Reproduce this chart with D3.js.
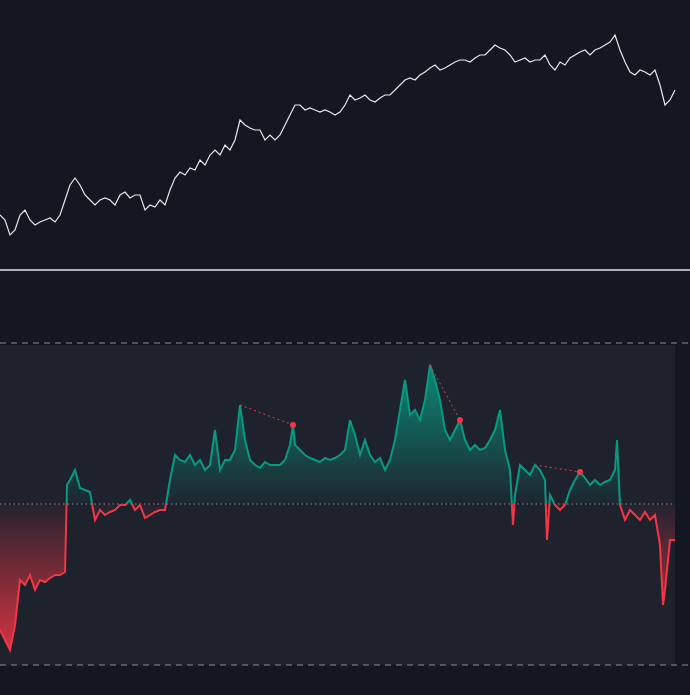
<!DOCTYPE html><html><head><meta charset="utf-8">
<script src="https://cdn.jsdelivr.net/npm/d3@7"></script>
<style>body{margin:0;background:#131722}</style></head><body><svg id="c" width="690" height="695"></svg>
<script>
const priceX=[0,5,10,15,20,25,30,35,40,45,50,55,60,65,70,75,80,85,90,95,100,105,110,115,120,125,130,135,140,145,150,155,160,165,170,175,180,185,190,195,200,205,210,215,220,225,230,235,240,245,250,255,260,265,270,275,280,285,290,295,300,305,310,315,320,325,330,335,340,345,350,355,360,365,370,375,380,385,390,395,400,405,410,415,420,425,430,435,440,445,450,455,460,465,470,475,480,485,490,495,500,505,510,515,520,525,530,535,540,545,550,555,560,565,570,575,580,585,590,595,600,605,610,615,620,625,630,635,640,645,650,655,660,665,670,675];
const priceY=[215,220,235,230,215,210,220,225,222,220,218,222,215,200,185,178,185,195,200,205,200,198,200,205,195,192,198,195,195,210,205,207,200,205,190,178,172,175,168,170,160,165,155,150,155,145,150,140,120,125,128,130,130,140,135,140,135,125,115,105,105,110,108,110,112,110,112,115,112,105,95,100,98,95,100,102,98,95,95,90,85,80,78,80,75,72,68,65,70,68,65,62,60,60,62,58,55,55,50,45,48,50,55,62,60,58,62,60,60,55,65,70,62,65,58,55,52,50,55,50,48,45,42,35,50,62,72,75,70,72,75,70,85,105,100,90];
const price=priceY.map(y=>270-y);
const oscX=[0,5,10,15,20,25,30,35,40,45,50,55,60,65,67,70,75,80,85,90,95,100,105,110,115,120,125,130,135,140,145,150,155,160,165,170,175,180,185,190,195,200,205,210,215,220,225,230,235,240,245,250,255,260,265,270,275,280,285,290,293,295,300,305,310,315,320,325,330,335,340,345,350,355,360,365,370,375,380,385,390,395,400,405,410,415,420,425,430,435,440,445,450,455,460,465,470,475,480,485,490,495,500,505,510,513,515,520,525,530,535,540,545,547,550,555,560,565,570,575,580,585,590,595,600,605,610,615,617,620,625,630,635,640,645,650,655,660,663,665,670,675];
const oscY=[630,640,650,625,580,585,575,590,580,582,578,575,575,572,485,480,470,488,490,492,520,510,515,512,510,505,505,500,510,505,518,515,512,510,510,480,455,460,462,455,465,460,470,465,430,470,460,460,450,405,440,460,465,468,462,465,465,465,460,445,425,445,450,455,458,460,462,458,460,458,455,450,420,435,455,440,455,462,458,470,460,440,410,380,415,410,420,400,365,380,400,430,440,430,420,440,450,445,450,448,440,430,410,450,470,525,495,465,470,475,465,470,480,540,495,505,510,505,490,480,472,478,485,480,485,482,480,470,440,505,520,510,515,520,512,520,515,545,605,590,540,540];
const osc=oscY.map(y=>504-y);
const divs=[[240,293],[430,460],[535,580]];

const svg=d3.select("#c");
const x=d3.scaleLinear().domain([0,675]).range([0,675]);
const yP=d3.scaleLinear().domain([0,270]).range([270,0]);
const yO=d3.scaleLinear().domain([-161,161]).range([665,343]);
svg.append("rect").attr("x",0).attr("y",345).attr("width",675).attr("height",320).attr("fill","#1e222d");
const pts=priceX.map((d,i)=>[d,price[i]]);
svg.append("path").datum(pts).attr("d",d3.line().x(d=>x(d[0])).y(d=>yP(d[1])))
 .attr("fill","none").attr("stroke","#e8e8ec").attr("stroke-width",1.2);
svg.append("line").attr("x1",0).attr("x2",690).attr("y1",270).attr("y2",270).attr("stroke","#e0e3eb").attr("stroke-width",1.5);
[161,-161].forEach(v=>svg.append("line").attr("x1",0).attr("x2",690).attr("y1",yO(v)).attr("y2",yO(v)).attr("stroke","#8a8e99").attr("stroke-dasharray","6,5"));
svg.append("line").attr("x1",0).attr("x2",675).attr("y1",yO(0)).attr("y2",yO(0)).attr("stroke","#8a8e99").attr("stroke-dasharray","1.5,3");
const defs=svg.append("defs");
const gf=defs.append("linearGradient").attr("id","gf").attr("gradientUnits","userSpaceOnUse").attr("x1",0).attr("x2",0).attr("y1",yO(161)).attr("y2",yO(-161));
[[0.1,"#089981",0.8],[0.5,"#089981",0.03],[0.5,"#f23645",0.03],[0.95,"#f23645",0.85]].forEach(s=>gf.append("stop").attr("offset",s[0]).attr("stop-color",s[1]).attr("stop-opacity",s[2]));
const gl=defs.append("linearGradient").attr("id","gl").attr("gradientUnits","userSpaceOnUse").attr("x1",0).attr("x2",0).attr("y1",yO(161)).attr("y2",yO(-161));
[[0,"#089981"],[0.5,"#089981"],[0.5,"#f23645"],[1,"#f23645"]].forEach(s=>gl.append("stop").attr("offset",s[0]).attr("stop-color",s[1]));
const op=oscX.map((d,i)=>[d,osc[i]]);
svg.append("path").datum(op).attr("d",d3.area().x(d=>x(d[0])).y0(yO(0)).y1(d=>yO(d[1]))).attr("fill","url(#gf)");
svg.append("path").datum(op).attr("d",d3.line().x(d=>x(d[0])).y(d=>yO(d[1]))).attr("fill","none").attr("stroke","url(#gl)").attr("stroke-width",2);
const val=xx=>osc[d3.minIndex(oscX,v=>Math.abs(v-xx))];
divs.forEach(([a,b])=>{
 svg.append("line").attr("x1",x(a)).attr("y1",yO(val(a))).attr("x2",x(b)).attr("y2",yO(val(b))).attr("stroke","#f23645").attr("stroke-dasharray","2,3");
 svg.append("circle").attr("cx",x(b)).attr("cy",yO(val(b))).attr("r",3).attr("fill","#f23645");
});
</script></body></html>
